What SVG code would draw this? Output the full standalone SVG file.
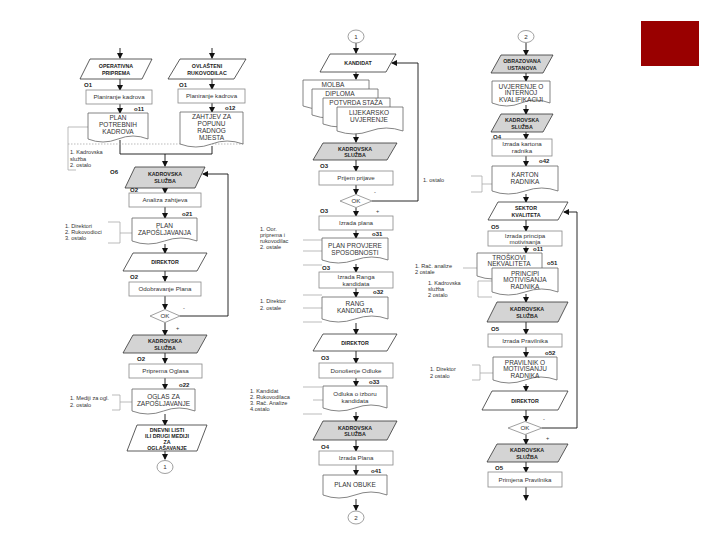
<svg xmlns="http://www.w3.org/2000/svg" width="720" height="540" viewBox="0 0 720 540">
<style>
text{font-family:"Liberation Sans",Arial,sans-serif;fill:#222}
.p{fill:#fff;stroke:#333;stroke-width:0.8}
.pg{fill:#d4d4d4;stroke:#333;stroke-width:0.8}
.pt{font-size:5.3px;font-weight:bold;text-anchor:middle}
.b{fill:#fff;stroke:#888;stroke-width:0.8}
.bt{font-size:6.2px;text-anchor:middle;fill:#333}
.d{fill:#fff;stroke:#666;stroke-width:0.8}
.dt{font-size:6.5px;text-anchor:middle;fill:#333}
.lb{font-size:6px;font-weight:bold}
.n{font-size:5.6px;fill:#333}
.br{fill:none;stroke:#aaa;stroke-width:0.8}
.c{fill:none;stroke:#111;stroke-width:0.9}
.a{fill:none;stroke:#111;stroke-width:0.9;marker-end:url(#ah)}
</style>
<defs>
<marker id="ah" markerWidth="6" markerHeight="6" refX="5" refY="3" orient="auto" markerUnits="userSpaceOnUse"><path d="M0,0 L6,3 L0,6 Z" fill="#111"/></marker>
</defs>
<rect x="641" y="21" width="58" height="45" fill="#990000"/>

<g id="connectors">
<path class="a" d="M120,48 V58"/>
<path class="a" d="M212,48 V58"/>
<path class="a" d="M120,79 V90"/>
<path class="a" d="M212,79 V89"/>
<path class="a" d="M120,104 V113"/>
<path class="a" d="M212,103 V112"/>
<path class="c" d="M120,140 V154 H212 V146"/>
<path class="a" d="M165,154 V166"/>
<path class="a" d="M228,316 V174 H203"/>
<path class="a" d="M165,188 V193"/>
<path class="a" d="M165,207 V218"/>
<path class="a" d="M165,244 V253"/>
<path class="a" d="M165,271 V281"/>
<path class="a" d="M165,296 V309"/>
<path class="c" d="M180,316 H228"/>
<path class="a" d="M165,322.5 V335"/>
<path class="a" d="M165,353 V363"/>
<path class="a" d="M165,378 V389"/>
<path class="a" d="M165,414 V425"/>
<path class="a" d="M165,451 V459"/>

<path class="a" d="M356,43 V53"/>
<path class="a" d="M418,201 V63 H392"/>
<path class="a" d="M356,72 V79"/>
<path class="a" d="M356,133 V142"/>
<path class="a" d="M356,160 V171"/>
<path class="a" d="M356,185 V194"/>
<path class="c" d="M372,201 H418"/>
<path class="a" d="M356,207.5 V216"/>
<path class="a" d="M356,230 V238"/>
<path class="a" d="M356,264 V272"/>
<path class="a" d="M356,288 V297"/>
<path class="a" d="M356,323 V334"/>
<path class="a" d="M356,351 V363"/>
<path class="a" d="M356,378 V386"/>
<path class="a" d="M356,412 V421"/>
<path class="a" d="M356,440 V451"/>
<path class="a" d="M356,465 V475"/>
<path class="a" d="M356,499 V510"/>

<path class="a" d="M526,43 V55"/>
<path class="a" d="M526,73 V81"/>
<path class="a" d="M526,105 V114"/>
<path class="a" d="M526,132 V139"/>
<path class="a" d="M526,156 V166"/>
<path class="a" d="M526,194 V202"/>
<path class="a" d="M577,428 V212 H564"/>
<path class="a" d="M526,220 V231"/>
<path class="a" d="M526,246 V253"/>
<path class="a" d="M526,294 V302"/>
<path class="a" d="M526,322 V334"/>
<path class="a" d="M526,347 V357"/>
<path class="a" d="M526,384 V391"/>
<path class="a" d="M526,410 V421"/>
<path class="c" d="M542,428 H577"/>
<path class="a" d="M526,434.5 V444"/>
<path class="a" d="M526,462 V472"/>
<path class="a" d="M526,487 V500"/>

<path class="br" d="M88,127 H68 V170 H76"/>
<path class="br" d="M68,144 H245" stroke-dasharray="1.5,1.5"/>
<path class="br" d="M108,222 H120 V243 H108 M120,233 H132"/>
<path class="br" d="M112,395 H120 V410 H112 M120,402 H132"/>
<path class="br" d="M303,240 H322 M303,251 H322 M303,265 H322"/>
<path class="br" d="M303,295 H322 M303,308 H322 M303,322 H322"/>
<path class="br" d="M303,387 H322 M313,400 H323 M303,414 H322"/>
<path class="br" d="M471,176 H482 V192 H471 M482,184 H492"/>
<path class="br" d="M463,268 H477"/>
<path class="br" d="M478,281 H492 M478,281 V297 H492"/>
<path class="br" d="M472,365 H480 V380 H472 M480,373 H493"/>
</g>

<g id="n-operativna"><polygon class="p" points="90,59 152,59 142,79 80,79"/><text class="pt" x="116" y="67.5">OPERATIVNA</text><text class="pt" x="116" y="74.5">PRIPREMA</text></g>
<g id="n-ovlasteni"><polygon class="p" points="180,59 246,59 234,79 168,79"/><text class="pt" x="207" y="67.5">OVLAŠTENI</text><text class="pt" x="207" y="74.5">RUKOVODILAC</text></g>
<g id="n-o1a"><text class="lb" x="84" y="87">O1</text><rect class="b" x="86" y="90" width="66" height="14"/><text class="bt" x="119" y="99.2">Planiranje kadrova</text></g>
<g id="n-o1b"><text class="lb" x="179" y="87">O1</text><rect class="b" x="178" y="89" width="67" height="14"/><text class="bt" x="211.5" y="98.2">Planiranje kadrova</text></g>
<g id="n-o11"><text class="lb" x="134" y="111" font-weight="normal">o11</text><path class="d" d="M88,113 H148 V139 Q133,133 118,139 T88,139 Z"/><text class="dt" x="118" y="120">PLAN</text><text class="dt" x="118" y="127">POTREBNIH</text><text class="dt" x="118" y="134">KADROVA</text></g>
<g id="n-o12"><text class="lb" x="225" y="110" font-weight="normal">o12</text><path class="d" d="M180,112 H243 V144 Q227,138 211.5,144 T180,144 Z"/><text class="dt" x="211.5" y="119">ZAHTJEV ZA</text><text class="dt" x="211.5" y="126">POPUNU</text><text class="dt" x="211.5" y="133">RADNOG</text><text class="dt" x="211.5" y="140">MJESTA</text></g>
<g id="n-note1"><text class="n" x="70" y="154">1. Kadrovska</text><text class="n" x="70" y="160.5">služba</text><text class="n" x="70" y="167">2. ostalo</text></g>

<g id="n-ks1"><text class="lb" x="110" y="174">O6</text><polygon class="pg" points="135,167 205,167 195,188 125,188"/><text class="pt" x="165" y="176">KADROVSKA</text><text class="pt" x="165" y="183">SLUŽBA</text></g>
<g id="n-analiza"><text class="lb" x="130" y="192">O2</text><rect class="b" x="129" y="193" width="72" height="14"/><text class="bt" x="165" y="202.2">Analiza zahtjeva</text></g>
<g id="n-o21"><text class="lb" x="182" y="216" font-weight="normal">o21</text><path class="d" d="M132,218 H197 V241 Q181,235 164.5,241 T132,241 Z"/><text class="dt" x="164.5" y="228">PLAN</text><text class="dt" x="164.5" y="235">ZAPOŠLJAVANJA</text></g>
<g id="n-note2"><text class="n" x="65" y="228">1. Direktori</text><text class="n" x="65" y="234">2. Rukovodioci</text><text class="n" x="65" y="240">3. ostalo</text></g>
<g id="n-dir1"><polygon class="p" points="133,253 207,253 197,271 123,271"/><text class="pt" x="165" y="264">DIREKTOR</text></g>
<g id="n-odobr"><text class="lb" x="130" y="279">O2</text><rect class="b" x="129" y="282" width="72" height="14"/><text class="bt" x="165" y="291.2">Odobravanje Plana</text></g>
<g id="n-ok1"><polygon class="b" points="150,316 165,309.5 180,316 165,322.5"/><text class="bt" x="165" y="318.3">OK</text><text class="n" x="183" y="310">-</text><text class="n" x="176" y="330">+</text></g>
<g id="n-ks2"><polygon class="pg" points="133,335 207,335 197,353 123,353"/><text class="pt" x="165" y="343">KADROVSKA</text><text class="pt" x="165" y="349.5">SLUŽBA</text></g>
<g id="n-priprema"><text class="lb" x="137" y="361">O2</text><rect class="b" x="129" y="364" width="73" height="14"/><text class="bt" x="165.5" y="373.2">Priprema Oglasa</text></g>
<g id="n-o22"><text class="lb" x="179" y="387" font-weight="normal">o22</text><path class="d" d="M132,389 H195 V411 Q179,405 163.5,411 T132,411 Z"/><text class="dt" x="163.5" y="399">OGLAS ZA</text><text class="dt" x="163.5" y="406">ZAPOŠLJAVANJE</text></g>
<g id="n-note3"><text class="n" x="70" y="400">1. Mediji za ogl.</text><text class="n" x="70" y="407">2. ostalo</text></g>
<g id="n-dnevni"><polygon class="p" points="137,425 207,425 197,451 127,451"/><text class="pt" x="167" y="431.5">DNEVNI LISTI</text><text class="pt" x="167" y="437.5">ILI DRUGI MEDIJI</text><text class="pt" x="167" y="443.5">ZA</text><text class="pt" x="167" y="449.5">OGLAŠAVANJE</text></g>
<g id="n-c1a"><ellipse class="b" cx="165" cy="467" rx="8" ry="6.5" stroke="#333"/><text class="bt" x="165" y="469.3">1</text></g>

<g id="n-c1b"><ellipse class="b" cx="356" cy="36.5" rx="8" ry="6.5" stroke="#333"/><text class="bt" x="356" y="38.8">1</text></g>
<g id="n-kandidat"><polygon class="p" points="330,54 396,54 386,72 320,72"/><text class="pt" x="358" y="65">KANDIDAT</text></g>
<g id="n-docs">
<path class="d" d="M303,80 H369 V106 Q352,100 336,106 T303,106 Z"/><text class="dt" x="333" y="87">MOLBA</text>
<path class="d" d="M312,89 H378 V115 Q361,109 345,115 T312,115 Z"/><text class="dt" x="340" y="96">DIPLOMA</text>
<path class="d" d="M323,98 H390 V124 Q373,118 356.5,124 T323,124 Z"/><text class="dt" x="356" y="105">POTVRDA STAŽA</text>
<path class="d" d="M337,107 H403 V131 Q386,125 370,131 T337,131 Z"/><text class="dt" x="369" y="115">LIJEKARSKO</text><text class="dt" x="369" y="121.5">UVJERENJE</text>
</g>
<g id="n-ks3"><polygon class="pg" points="323,143 397,143 387,160 313,160"/><text class="pt" x="355" y="150.5">KADROVSKA</text><text class="pt" x="355" y="157">SLUŽBA</text></g>
<g id="n-prijem"><text class="lb" x="320" y="168">O3</text><rect class="b" x="319" y="171" width="74" height="14"/><text class="bt" x="356" y="180.2">Prijem prijave</text></g>
<g id="n-ok2"><polygon class="b" points="340,201 356,194.5 372,201 356,207.5"/><text class="bt" x="356" y="203.3">OK</text><text class="n" x="374" y="194">-</text><text class="n" x="376" y="213">+</text></g>
<g id="n-izplana"><text class="lb" x="320" y="213">O3</text><rect class="b" x="319" y="216" width="74" height="14"/><text class="bt" x="356" y="225.2">Izrada plana</text></g>
<g id="n-o31"><text class="lb" x="372" y="236" font-weight="normal">o31</text><path class="d" d="M322,238 H388 V260 Q372,254 355,260 T322,260 Z"/><text class="dt" x="355" y="248">PLAN PROVJERE</text><text class="dt" x="355" y="255">SPOSOBNOSTI</text></g>
<g id="n-note4"><text class="n" x="260" y="231">1. Oor.</text><text class="n" x="260" y="237">priprema i</text><text class="n" x="260" y="243">rukovodilac</text><text class="n" x="260" y="249">2. ostale</text></g>
<g id="n-rang"><text class="lb" x="322" y="270">O3</text><rect class="b" x="319" y="272" width="74" height="16"/><text class="bt" x="356" y="279">Izrada Ranga</text><text class="bt" x="356" y="285.5">kandidata</text></g>
<g id="n-o32"><text class="lb" x="373" y="294" font-weight="normal">o32</text><path class="d" d="M322,297 H388 V319 Q372,313 355,319 T322,319 Z"/><text class="dt" x="355" y="306">RANG</text><text class="dt" x="355" y="313">KANDIDATA</text></g>
<g id="n-note5"><text class="n" x="260" y="303">1. Direktor</text><text class="n" x="260" y="310">2. ostale</text></g>
<g id="n-dir2"><polygon class="p" points="323,334 397,334 387,351 313,351"/><text class="pt" x="355" y="344.5">DIREKTOR</text></g>
<g id="n-odluka"><text class="lb" x="321" y="360">O3</text><rect class="b" x="319" y="363" width="74" height="15"/><text class="bt" x="356" y="372.5">Donošenje Odluke</text></g>
<g id="n-o33"><text class="lb" x="369" y="384" font-weight="normal">o33</text><path class="d" d="M323,386 H387 V408 Q371,402 355,408 T323,408 Z"/><text class="bt" x="355" y="396">Odluka o izboru</text><text class="bt" x="355" y="403">kandidata</text></g>
<g id="n-note6"><text class="n" x="250" y="393">1. Kandidat</text><text class="n" x="250" y="399">2. Rukovodilaca</text><text class="n" x="250" y="405">3. Rač. Analize</text><text class="n" x="250" y="411">4.ostalo</text></g>
<g id="n-ks4"><polygon class="pg" points="323,421 397,421 387,440 313,440"/><text class="pt" x="355" y="429.5">KADROVSKA</text><text class="pt" x="355" y="436">SLUŽBA</text></g>
<g id="n-izplana2"><text class="lb" x="321" y="449">O4</text><rect class="b" x="319" y="451" width="74" height="14"/><text class="bt" x="356" y="460.2">Izrada Plana</text></g>
<g id="n-o41"><text class="lb" x="371" y="473" font-weight="normal">o41</text><path class="d" d="M323,475 H387 V495 Q371,489 355,495 T323,495 Z"/><text class="dt" x="355" y="487">PLAN OBUKE</text></g>
<g id="n-c2a"><ellipse class="b" cx="356" cy="517.5" rx="8" ry="6.5" stroke="#333"/><text class="bt" x="356" y="519.8">2</text></g>

<g id="n-c2b"><ellipse class="b" cx="526" cy="36.5" rx="8" ry="6" stroke="#333"/><text class="bt" x="526" y="38.8">2</text></g>
<g id="n-obraz"><polygon class="pg" points="501,55 553,55 543,73 491,73"/><text class="pt" x="522" y="63">OBRAZOVANA</text><text class="pt" x="522" y="69.5">USTANOVA</text></g>
<g id="n-uvj"><path class="d" d="M492,81 H550 V103 Q535,97 521,103 T492,103 Z"/><text class="dt" x="521" y="88.5">UVJERENJE O</text><text class="dt" x="521" y="95">INTERNOJ</text><text class="dt" x="521" y="101.5">KVALIFIKACIJI</text></g>
<g id="n-ks5"><polygon class="pg" points="501,114 553,114 543,132 491,132"/><text class="pt" x="522" y="122">KADROVSKA</text><text class="pt" x="522" y="128.5">SLUŽBA</text></g>
<g id="n-karton"><text class="lb" x="493" y="139">O4</text><rect class="b" x="492" y="139" width="60" height="17"/><text class="bt" x="522" y="146">Izrada kartona</text><text class="bt" x="522" y="153">radnika</text></g>
<g id="n-o42"><text class="lb" x="539" y="163" font-weight="normal">o42</text><path class="d" d="M492,166 H558 V191 Q542,185 525,191 T492,191 Z"/><text class="dt" x="525" y="177">KARTON</text><text class="dt" x="525" y="184">RADNIKA</text></g>
<g id="n-note7"><text class="n" x="423" y="182">1. ostalo</text></g>
<g id="n-sektor"><polygon class="p" points="498,202 568,202 558,220 488,220"/><text class="pt" x="526" y="210">SEKTOR</text><text class="pt" x="526" y="216.5">KVALITETA</text></g>
<g id="n-princ"><text class="lb" x="491" y="229">O5</text><rect class="b" x="488" y="231" width="74" height="15"/><text class="bt" x="525" y="237.5">Izrada principa</text><text class="bt" x="525" y="244">motivisanja</text></g>
<g id="n-troskovi"><text class="lb" x="533" y="251" font-weight="normal">o11</text><path class="d" d="M477,253 H542 V276 Q526,270 509.5,276 T477,276 Z"/><text class="dt" x="509" y="259.5">TROŠKOVI</text><text class="dt" x="509" y="266">NEKVALITETA</text></g>
<g id="n-o51"><text class="lb" x="547" y="265" font-weight="normal">o51</text><path class="d" d="M492,268 H558 V292 Q542,286 525,292 T492,292 Z"/><text class="dt" x="525" y="275.5">PRINCIPI</text><text class="dt" x="525" y="282">MOTIVISANJA</text><text class="dt" x="525" y="288.5">RADNIKA</text></g>
<g id="n-note8"><text class="n" x="415" y="268">1. Rač. analize</text><text class="n" x="415" y="274">2 ostale</text></g>
<g id="n-note9"><text class="n" x="428" y="285">1. Kadrovska</text><text class="n" x="428" y="291">služba</text><text class="n" x="428" y="297">2 ostalo</text></g>
<g id="n-ks6"><polygon class="pg" points="497,302 568,302 558,322 487,322"/><text class="pt" x="527" y="311">KADROVSKA</text><text class="pt" x="527" y="318">SLUŽBA</text></g>
<g id="n-pravilnik"><text class="lb" x="491" y="331">O5</text><rect class="b" x="488" y="334" width="74" height="13"/><text class="bt" x="525" y="342.8">Izrada Pravilnika</text></g>
<g id="n-o52"><text class="lb" x="545" y="355" font-weight="normal">o52</text><path class="d" d="M493,357 H557 V380 Q541,374 525,380 T493,380 Z"/><text class="dt" x="525" y="364.5">PRAVILNIK O</text><text class="dt" x="525" y="371">MOTIVISANJU</text><text class="dt" x="525" y="377.5">RADNIKA</text></g>
<g id="n-note10"><text class="n" x="430" y="371">1. Direktor</text><text class="n" x="430" y="378">2 ostalo</text></g>
<g id="n-dir3"><polygon class="p" points="492,391 568,391 558,410 482,410"/><text class="pt" x="525" y="402.5">DIREKTOR</text></g>
<g id="n-ok3"><polygon class="b" points="508,428 525,421.5 542,428 525,434.5"/><text class="bt" x="525" y="430.3">OK</text><text class="n" x="543" y="421">-</text><text class="n" x="546" y="440">+</text></g>
<g id="n-ks7"><polygon class="pg" points="497,444 568,444 558,462 487,462"/><text class="pt" x="527" y="452">KADROVSKA</text><text class="pt" x="527" y="458.5">SLUŽBA</text></g>
<g id="n-primjena"><text class="lb" x="495" y="470">O5</text><rect class="b" x="488" y="472" width="74" height="15"/><text class="bt" x="525" y="481.5">Primjena Pravilnika</text></g>
</svg>
